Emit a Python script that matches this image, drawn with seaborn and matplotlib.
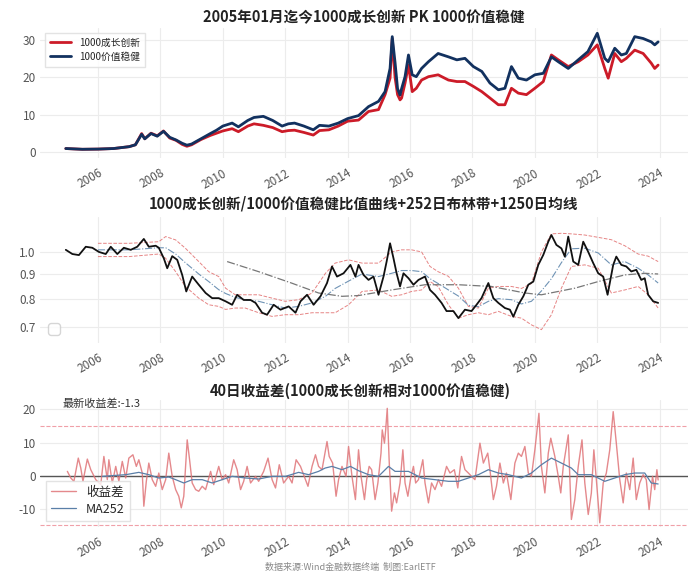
import matplotlib
matplotlib.use("Agg")
import matplotlib.pyplot as plt
from matplotlib.ticker import FixedLocator, NullLocator
import seaborn as sns

# Style
sns.set_theme(style="whitegrid")
plt.rcParams['font.family'] = ['Noto Sans CJK SC', 'DejaVu Sans']
plt.rcParams['axes.unicode_minus'] = False

# ---- Panel 1: index levels ----
p1_years = [2004.97, 2005.5, 2006.0, 2006.5, 2007.0, 2007.2, 2007.4, 2007.5, 2007.7, 2007.9,
            2008.1, 2008.3, 2008.5, 2008.7, 2008.85, 2009.0, 2009.3, 2009.6, 2009.8, 2010.0,
            2010.3, 2010.5, 2010.8, 2011.0, 2011.3, 2011.6, 2011.9, 2012.1, 2012.3, 2012.6,
            2012.9, 2013.1, 2013.4, 2013.7, 2014.0, 2014.35, 2014.67, 2014.99, 2015.2, 2015.36,
            2015.43, 2015.52, 2015.6, 2015.68, 2015.73, 2015.84, 2015.95, 2016.07, 2016.2, 2016.37,
            2016.59, 2016.9, 2017.23, 2017.5, 2017.76, 2018.03, 2018.3, 2018.56, 2018.83, 2019.04,
            2019.25, 2019.47, 2019.73, 2020.0, 2020.27, 2020.53, 2020.75, 2021.07, 2021.39, 2021.7,
            2022.0, 2022.24, 2022.35, 2022.56, 2022.77, 2022.93, 2023.2, 2023.47, 2023.73, 2023.84,
            2023.95]
growth = [1.0, 0.8, 0.85, 1.0, 1.5, 2.0, 5.0, 3.6, 5.1, 4.4,
          5.7, 3.8, 3.2, 2.1, 1.6, 2.0, 3.4, 4.5, 5.1, 5.7,
          6.3, 5.5, 7.0, 7.6, 7.2, 6.6, 5.5, 5.8, 5.9, 5.3,
          4.6, 5.8, 6.0, 7.0, 8.3, 8.6, 10.9, 11.4, 15.4, 19.8,
          30.4, 20.0, 15.4, 14.0, 14.5, 18.5, 23.3, 16.2, 17.1, 19.3,
          20.2, 20.7, 19.3, 18.9, 18.9, 17.6, 16.2, 14.5, 12.7, 12.7,
          17.1, 15.8, 15.4, 17.1, 18.9, 26.0, 24.7, 22.9, 24.2, 26.0,
          28.7, 22.4, 19.8, 26.4, 24.2, 25.1, 27.3, 26.4, 23.8, 22.4,
          23.3]
value = [1.0, 0.8, 0.85, 1.0, 1.5, 2.0, 4.8, 3.6, 5.0, 4.3,
         5.6, 4.0, 3.3, 2.4, 1.9, 2.2, 3.6, 5.0, 5.9, 7.0,
         7.8, 6.8, 8.5, 9.3, 9.6, 8.5, 7.0, 7.6, 7.8, 7.0,
         6.0, 7.2, 7.0, 7.8, 9.0, 9.8, 12.2, 13.6, 16.2, 22.4,
         30.9, 24.0, 17.0, 15.3, 17.0, 20.2, 26.0, 20.7, 20.2, 22.4,
         24.2, 26.4, 25.5, 24.7, 25.1, 22.9, 21.6, 18.5, 16.7, 17.1,
         22.9, 19.8, 19.3, 20.7, 21.1, 25.5, 24.2, 22.4, 24.7, 26.9,
         31.8, 25.1, 24.2, 27.8, 26.0, 26.4, 30.9, 30.4, 29.5, 28.7,
         29.5]

# ---- Panel 2: ratio, bollinger band, 1250-day MA ----
ratio_years = [2004.97, 2005.18, 2005.39, 2005.61, 2005.82, 2006.03, 2006.25, 2006.41, 2006.62, 2006.83,
               2007.05, 2007.26, 2007.47, 2007.63, 2007.85, 2007.95, 2008.11, 2008.22, 2008.38, 2008.54,
               2008.70, 2008.83, 2009.02, 2009.23, 2009.45, 2009.66, 2009.87, 2010.09, 2010.30, 2010.46,
               2010.67, 2010.89, 2011.05, 2011.26, 2011.42, 2011.63, 2011.85, 2012.11, 2012.33, 2012.49,
               2012.70, 2012.91, 2013.13, 2013.34, 2013.50, 2013.66, 2013.87, 2014.09, 2014.25, 2014.35,
               2014.51, 2014.67, 2014.83, 2014.99, 2015.15, 2015.25, 2015.36, 2015.47, 2015.57, 2015.68,
               2015.79, 2015.95, 2016.11, 2016.27, 2016.48, 2016.64, 2016.80, 2017.01, 2017.17, 2017.39,
               2017.55, 2017.76, 2017.97, 2018.13, 2018.29, 2018.51, 2018.67, 2018.83, 2019.04, 2019.20,
               2019.31, 2019.47, 2019.63, 2019.79, 2019.95, 2020.11, 2020.27, 2020.43, 2020.53, 2020.69,
               2020.85, 2020.96, 2021.07, 2021.23, 2021.39, 2021.55, 2021.71, 2021.87, 2022.03, 2022.19,
               2022.33, 2022.51, 2022.61, 2022.77, 2022.93, 2023.09, 2023.25, 2023.41, 2023.52, 2023.63,
               2023.79, 2023.95]
ratio = [1.01, 0.99, 0.985, 1.025, 1.02, 1.0, 0.99, 1.025, 0.99, 1.02,
         1.01, 1.025, 1.064, 1.025, 1.03, 1.02, 0.97, 0.925, 0.98, 0.963,
         0.896, 0.828, 0.889, 0.855, 0.822, 0.802, 0.802, 0.79, 0.777, 0.815,
         0.795, 0.795, 0.784, 0.748, 0.741, 0.777, 0.759, 0.771, 0.748, 0.79,
         0.815, 0.777, 0.809, 0.862, 0.933, 0.889, 0.903, 0.94, 0.889, 0.94,
         0.896, 0.875, 0.889, 0.815, 0.889, 0.955, 1.042, 0.97, 0.903, 0.848,
         0.903, 0.882, 0.855, 0.875, 0.889, 0.834, 0.815, 0.784, 0.754, 0.754,
         0.729, 0.759, 0.754, 0.777, 0.802, 0.862, 0.802, 0.784, 0.765, 0.759,
         0.734, 0.777, 0.809, 0.855, 0.868, 0.94, 0.986, 1.05, 1.084, 1.034,
         1.017, 0.978, 1.076, 0.955, 0.94, 1.05, 1.0, 0.948, 0.903, 0.889,
         0.815, 0.94, 0.978, 0.94, 0.933, 0.911, 0.918, 0.875, 0.882, 0.815,
         0.79, 0.784]

band_years = [2006.0, 2007.0, 2007.95, 2008.17, 2008.49, 2008.8, 2009.23, 2009.55, 2009.87, 2010.09,
              2010.4, 2010.72, 2011.15, 2011.58, 2012.0, 2012.43, 2012.86, 2013.29, 2013.6, 2014.03,
              2014.46, 2014.99, 2015.41, 2015.73, 2016.05, 2016.37, 2016.64, 2016.9, 2017.23, 2017.55,
              2017.87, 2018.19, 2018.51, 2018.83, 2019.25, 2019.57, 2019.89, 2020.21, 2020.53, 2020.85,
              2021.17, 2021.6, 2022.03, 2022.45, 2022.88, 2023.31, 2023.63, 2023.95]
band_upper = [1.042, 1.042, 1.05, 1.076, 1.059, 1.018, 0.955, 0.91, 0.889, 0.841,
              0.815, 0.815, 0.815, 0.802, 0.79, 0.796, 0.822, 0.903, 0.948, 0.963,
              0.948, 0.948, 1.0, 1.01, 1.01, 1.0, 0.933, 0.91, 0.89, 0.841,
              0.771, 0.765, 0.841, 0.848, 0.848, 0.84, 0.86, 1.0, 1.09, 1.093,
              1.09, 1.084, 1.072, 1.06, 1.03, 0.99, 0.98, 0.955]
band_mid = [1.01, 1.01, 1.02, 1.02, 0.99, 0.95, 0.9, 0.868, 0.835, 0.82,
            0.805, 0.796, 0.79, 0.777, 0.765, 0.771, 0.784, 0.809, 0.84, 0.87,
            0.9, 0.889, 0.903, 0.915, 0.915, 0.91, 0.88, 0.86, 0.834, 0.81,
            0.775, 0.77, 0.79, 0.8, 0.796, 0.78, 0.79, 0.83, 0.88, 0.95,
            1.015, 1.018, 0.995, 0.94, 0.955, 0.925, 0.896, 0.862]
band_lower = [0.978, 0.978, 0.99, 0.97, 0.91, 0.848, 0.802, 0.777, 0.771, 0.76,
              0.765, 0.765, 0.748, 0.735, 0.741, 0.741, 0.748, 0.748, 0.748, 0.777,
              0.828, 0.834, 0.809, 0.815, 0.828, 0.834, 0.868, 0.848, 0.777, 0.729,
              0.741, 0.748, 0.741, 0.753, 0.735, 0.729, 0.706, 0.69, 0.741, 0.841,
              0.933, 0.94, 0.925, 0.822, 0.834, 0.848, 0.815, 0.765]

ma1250_years = [2010.14, 2011.15, 2012.2, 2013.07, 2013.82, 2014.35, 2015.41, 2016.48, 2017.55,
                2018.61, 2019.68, 2020.21, 2021.28, 2022.03, 2022.88, 2023.52, 2023.95]
ma1250 = [0.955, 0.91, 0.862, 0.822, 0.809, 0.812, 0.834, 0.855, 0.855,
          0.848, 0.822, 0.815, 0.841, 0.868, 0.896, 0.903, 0.9]

# ---- Panel 3: 40-day return spread and its MA252 ----
spread_years = [2005.02, 2005.13, 2005.23, 2005.37, 2005.45, 2005.52, 2005.66, 2005.77, 2005.93, 2006.09,
                2006.19, 2006.30, 2006.35, 2006.46, 2006.57, 2006.67, 2006.78, 2006.89, 2006.99, 2007.12,
                2007.23, 2007.31, 2007.42, 2007.47, 2007.55, 2007.63, 2007.74, 2007.85, 2007.95, 2008.06,
                2008.17, 2008.27, 2008.38, 2008.49, 2008.59, 2008.67, 2008.75, 2008.86, 2008.93, 2009.02,
                2009.13, 2009.23, 2009.34, 2009.45, 2009.61, 2009.71, 2009.87, 2009.98, 2010.09, 2010.19,
                2010.35, 2010.46, 2010.57, 2010.67, 2010.78, 2010.89, 2011.05, 2011.15, 2011.31, 2011.45,
                2011.58, 2011.69, 2011.81, 2011.95, 2012.11, 2012.22, 2012.35, 2012.49, 2012.59, 2012.73,
                2012.86, 2012.97, 2013.07, 2013.18, 2013.34, 2013.41, 2013.52, 2013.63, 2013.71, 2013.82,
                2013.95, 2014.03, 2014.14, 2014.25, 2014.35, 2014.43, 2014.54, 2014.61, 2014.69, 2014.77,
                2014.88, 2014.97, 2015.07, 2015.11, 2015.18, 2015.22, 2015.27, 2015.33, 2015.41, 2015.50,
                2015.57, 2015.68, 2015.77, 2015.84, 2015.93, 2016.03, 2016.11, 2016.18, 2016.27, 2016.41,
                2016.48, 2016.59, 2016.69, 2016.80, 2016.91, 2017.01, 2017.17, 2017.28, 2017.42, 2017.53,
                2017.65, 2017.76, 2017.87, 2017.97, 2018.08, 2018.24, 2018.35, 2018.49, 2018.56, 2018.67,
                2018.77, 2018.88, 2018.99, 2019.09, 2019.23, 2019.36, 2019.47, 2019.57, 2019.68, 2019.79,
                2019.89, 2020.00, 2020.13, 2020.21, 2020.32, 2020.43, 2020.51, 2020.64, 2020.75, 2020.83,
                2020.91, 2021.07, 2021.17, 2021.28, 2021.39, 2021.51, 2021.60, 2021.71, 2021.81, 2021.89,
                2021.97, 2022.08, 2022.19, 2022.29, 2022.40, 2022.51, 2022.61, 2022.72, 2022.83, 2022.93,
                2023.04, 2023.15, 2023.25, 2023.36, 2023.47, 2023.57, 2023.66, 2023.77, 2023.84, 2023.91,
                2023.95]
spread = [1.3, -0.7, -1.7, 5.3, 2.3, -1.7, 5.0, 1.8, -1.2, -2.7,
          5.8, -1.2, 4.8, -2.2, 2.8, -1.7, 4.3, -0.7, 5.3, 6.3,
          2.8, 4.8, 0.8, -9.2, -1.7, 3.8, -1.2, -3.2, 0.8, -4.2,
          -1.2, 6.8, -0.2, -4.2, -6.2, -9.7, -6.2, 10.8, 5.3, -2.2,
          -4.2, -4.7, -3.2, -4.2, 1.3, -2.7, 2.8, -1.2, 0.3, -2.2,
          4.8, 1.8, -4.2, -1.7, 2.8, -2.2, -0.2, -1.7, 1.3, 5.3,
          -1.2, -3.7, 3.3, -2.2, -0.2, -2.2, 4.8, 2.8, 0.3, -3.2,
          2.8, 6.3, 2.8, 1.8, 10.3, 5.8, 3.8, -6.2, -1.2, 2.8,
          -0.2, 8.8, -0.2, -7.2, 7.8, -0.2, -7.2, -1.2, 2.8, 1.8,
          -7.2, -2.2, 6.8, 13.8, 9.8, 13.8, 20.3, 4.8, -10.7, -5.2,
          -8.2, -2.2, 7.8, -2.2, -6.2, -0.2, 2.8, -2.2, -1.2, 4.8,
          -2.2, -8.2, -2.2, -4.2, -1.2, -3.2, 2.8, 0.8, 1.8, -3.7,
          5.8, 1.8, 0.8, -0.2, -1.2, 9.8, 3.8, 6.8, 1.8, -7.2,
          -3.2, 3.8, -2.2, 0.8, -7.2, 3.8, 6.8, 5.8, 8.8, 0.8,
          -0.2, 7.8, 18.8, 2.8, -5.2, 6.8, 11.3, 5.8, -0.2, -5.2,
          2.8, 12.3, -13.2, -7.2, 2.8, 10.8, -2.2, -11.7, -5.2, 7.8,
          -1.2, -14.2, -2.2, 0.8, 7.8, 19.3, 9.8, -1.2, -8.2, 0.8,
          -4.2, 5.3, -7.2, -2.2, 0.3, -1.2, -10.2, -0.2, -4.2, 1.8,
          -1.3]

ma252_years = [2006.14, 2006.89, 2007.31, 2007.63, 2007.95, 2008.27, 2008.49, 2008.75, 2009.02, 2009.34,
               2009.66, 2009.98, 2010.30, 2010.73, 2011.15, 2011.58, 2012.01, 2012.43, 2012.75, 2013.07,
               2013.28, 2013.50, 2013.82, 2014.09, 2014.35, 2014.67, 2014.99, 2015.31, 2015.52, 2015.95,
               2016.16, 2016.37, 2016.80, 2017.23, 2017.55, 2017.87, 2018.19, 2018.51, 2018.83, 2019.15,
               2019.57, 2019.89, 2020.21, 2020.53, 2020.85, 2021.17, 2021.39, 2021.81, 2022.24, 2022.56,
               2022.88, 2023.20, 2023.52, 2023.73, 2023.95]
ma252 = [-0.2, 0.3, 1.0, 0.3, -0.7, -0.4, -1.2, -2.2, -1.2, -1.2,
         -2.2, -1.2, -0.2, -0.7, -1.0, -0.2, -0.2, 1.0, 0.3, 1.3,
         2.3, 2.8, 1.8, 2.8, 1.5, 0.3, -0.2, 2.8, 1.3, 1.3,
         0.3, -0.7, -1.2, -1.7, -1.7, -0.7, 0.3, 1.8, 0.8, 0.3,
         -0.7, 0.8, 3.3, 5.3, 3.8, 2.3, 0.3, 0.3, -1.7, -0.7,
         0.3, 0.8, 0.8, -2.2, -2.5]
latest_spread = -1.3

year_ticks = list(range(2006, 2025, 2))

# ---- Figure ----
fig = plt.figure(figsize=(7.0, 5.84), dpi=100)
ax1 = fig.add_axes([0.057, 0.729, 0.926, 0.223])
ax2 = fig.add_axes([0.057, 0.413, 0.926, 0.215])
ax3 = fig.add_axes([0.057, 0.098, 0.926, 0.217])

red = '#cc1b28'
navy = '#12315f'

sns.lineplot(x=p1_years, y=growth, ax=ax1, color=red, linewidth=2.0, label='1000成长创新')
sns.lineplot(x=p1_years, y=value, ax=ax1, color=navy, linewidth=2.0, label='1000价值稳健')
ax1.set_ylim(-1.6, 33.2)
ax1.set_yticks([0, 10, 20, 30])
ax1.legend(loc='upper left', fontsize=7, frameon=True, facecolor='white', edgecolor='#dddddd',
           handlelength=2.2, borderpad=0.5, labelspacing=0.4, fancybox=False)

# ratio panel
sns.lineplot(x=band_years, y=band_upper, ax=ax2, color='#e06666', linewidth=0.7, linestyle='--', alpha=0.8)
sns.lineplot(x=band_years, y=band_lower, ax=ax2, color='#e06666', linewidth=0.7, linestyle='--', alpha=0.8)
sns.lineplot(x=band_years, y=band_mid, ax=ax2, color='#6f93b5', linewidth=0.8, linestyle='-.')
sns.lineplot(x=ma1250_years, y=ma1250, ax=ax2, color='#777777', linewidth=0.9, linestyle='-.')
sns.lineplot(x=ratio_years, y=ratio, ax=ax2, color='#111111', linewidth=1.3)
ax2.set_yscale('log')
ax2.set_ylim(0.648, 1.18)
ax2.yaxis.set_major_locator(FixedLocator([0.7, 0.8, 0.9, 1.0]))
ax2.yaxis.set_minor_locator(NullLocator())
ax2.set_yticklabels(['0.7', '0.8', '0.9', '1.0'])
ax2.legend(handles=[], loc='lower left', frameon=True, edgecolor='#cccccc', fancybox=True)

# spread panel
sns.lineplot(x=spread_years, y=spread, ax=ax3, color='#e07478', linewidth=1.0, alpha=0.85, label='收益差')
sns.lineplot(x=ma252_years, y=ma252, ax=ax3, color='#5a7fa8', linewidth=0.9, label='MA252')
ax3.axhline(0, color='#555555', linewidth=1.0, zorder=1)
ax3.axhline(15, color='#f0a0a8', linewidth=0.8, linestyle='--', zorder=1)
ax3.axhline(-15, color='#f0a0a8', linewidth=0.8, linestyle='--', zorder=1)
ax3.set_ylim(-15.4, 22.8)
ax3.set_yticks([-10, 0, 10, 20])
ax3.legend(loc='lower left', fontsize=9, frameon=True, facecolor='white', edgecolor='#dddddd',
           handlelength=2.0, borderpad=0.4, labelspacing=0.3, fancybox=False)
ax3.text(0.089, 0.308, f'最新收益差:{latest_spread}', transform=fig.transFigure,
         fontsize=8, color='#333333', va='center', ha='left')

for ax in (ax1, ax2, ax3):
    ax.set_xlim(2004.14, 2024.91)
    ax.set_xticks(year_ticks)
    ax.set_xticklabels([str(y) for y in year_ticks], rotation=30, ha='right', rotation_mode='anchor')
    ax.tick_params(axis='both', labelsize=8.5, labelcolor='#555555', length=0, pad=3)
    ax.tick_params(axis='x', pad=6)
    ax.grid(True, color='#ececec', linewidth=0.8)
    ax.set_xlabel('')
    ax.set_ylabel('')
    for s in ax.spines.values():
        s.set_visible(False)
    ax.set_facecolor('white')

fig.text(0.52, 0.971, '2005年01月迄今1000成长创新 PK 1000价值稳健', ha='center', va='center',
         fontsize=10.5, fontweight='bold', color='#222222')
fig.text(0.52, 0.651, '1000成长创新/1000价值稳健比值曲线+252日布林带+1250日均线', ha='center', va='center',
         fontsize=10.5, fontweight='bold', color='#222222')
fig.text(0.515, 0.330, '40日收益差(1000成长创新相对1000价值稳健)', ha='center', va='center',
         fontsize=10.5, fontweight='bold', color='#222222')
fig.text(0.5, 0.029, '数据来源:Wind金融数据终端  制图:EarlETF', ha='center', va='center',
         fontsize=6.5, color='#888888')

fig.savefig('out.png', dpi=100, facecolor='white')
